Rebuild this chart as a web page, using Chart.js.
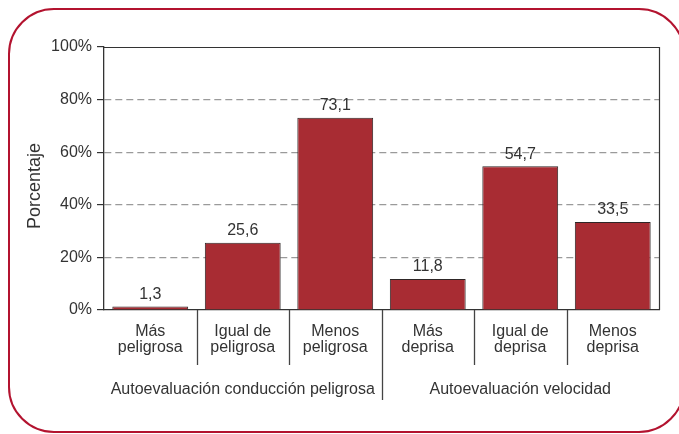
<!DOCTYPE html>
<html>
<head>
<meta charset="utf-8">
<script src="https://cdn.jsdelivr.net/npm/chart.js@4/dist/chart.umd.min.js"></script>
<style>
  html, body { margin: 0; padding: 0; background: #fff; overflow: hidden; }
  #wrap { position: relative; width: 679px; height: 434px; overflow: hidden; }
  #frame { position: absolute; left: 8px; top: 8px; width: 673px; height: 421px;
           border: 2.5px solid #b3132f; border-radius: 46px; }
  canvas { position: absolute; left: 0; top: 0; }
</style>
</head>
<body>
<div id="wrap">
  <div id="frame"></div>
  <canvas id="c" width="679" height="434"></canvas>
</div>
<script>
const categories = [
  ['Más', 'peligrosa'],
  ['Igual de', 'peligrosa'],
  ['Menos', 'peligrosa'],
  ['Más', 'deprisa'],
  ['Igual de', 'deprisa'],
  ['Menos', 'deprisa']
];
const values = [1.3, 25.6, 73.1, 11.8, 54.7, 33.5];
const valueLabels = ['1,3', '25,6', '73,1', '11,8', '54,7', '33,5'];
const groupNames = ['Autoevaluación conducción peligrosa', 'Autoevaluación velocidad'];
const groupStarts = [0, 3];
const groupEnds = [2, 5];
const yTicks = [0, 20, 40, 60, 80, 100];
const yTitle = 'Porcentaje';

const FONT = '"Liberation Sans", Arial, Helvetica, sans-serif';
const TEXT = '#333333';
Chart.defaults.font.family = FONT;
Chart.defaults.color = TEXT;

const extras = {
  id: 'extras',
  afterDatasetsDraw(chart) {
    const ctx = chart.ctx;
    const ca = chart.chartArea;
    const x = chart.scales.x;
    const meta = chart.getDatasetMeta(0);
    ctx.save();
    // top and right border
    ctx.strokeStyle = '#333';
    ctx.lineWidth = 1.2;
    ctx.beginPath();
    ctx.moveTo(ca.left, ca.top + 0.5);
    ctx.lineTo(ca.right + 0.5, ca.top + 0.5);
    ctx.lineTo(ca.right + 0.5, ca.bottom);
    ctx.stroke();
    // value labels
    ctx.fillStyle = TEXT;
    ctx.font = '16px ' + FONT;
    ctx.textAlign = 'center';
    ctx.textBaseline = 'alphabetic';
    meta.data.forEach((bar, i) => {
      ctx.fillText(valueLabels[i], bar.x, bar.y - 7.5);
    });
    // category separators
    const half = (x.getPixelForValue(1) - x.getPixelForValue(0)) / 2;
    ctx.strokeStyle = '#444';
    ctx.lineWidth = 1.3;
    for (let i = 1; i < categories.length; i++) {
      const px = Math.round(x.getPixelForValue(i) - half) + 0.5;
      const isGroupEdge = groupStarts.includes(i);
      ctx.beginPath();
      ctx.moveTo(px, ca.bottom);
      ctx.lineTo(px, isGroupEdge ? ca.bottom + 90 : ca.bottom + 55);
      ctx.stroke();
    }
    // group labels
    ctx.fillStyle = TEXT;
    ctx.font = '16px ' + FONT;
    groupNames.forEach((g, k) => {
      const l = x.getPixelForValue(groupStarts[k]) - half;
      const r = x.getPixelForValue(groupEnds[k]) + half;
      ctx.fillText(g, (l + r) / 2, ca.bottom + 84);
    });
    // y title
    ctx.save();
    ctx.translate(40, 186);
    ctx.rotate(-Math.PI / 2);
    ctx.font = '18px ' + FONT;
    ctx.textAlign = 'center';
    ctx.fillText(yTitle, 0, 0);
    ctx.restore();
    ctx.restore();
  }
};

new Chart(document.getElementById('c'), {
  type: 'bar',
  data: {
    labels: categories,
    datasets: [{
      data: values,
      backgroundColor: '#a82c33',
      borderColor: '#2e2626',
      borderWidth: 1,
      borderSkipped: 'start',
      categoryPercentage: 1,
      barPercentage: 0.82
    }]
  },
  options: {
    responsive: false,
    animation: false,
    events: [],
    layout: { padding: { left: 0, right: 20, top: 47, bottom: 0 } },
    plugins: { legend: { display: false }, tooltip: { enabled: false } },
    scales: {
      x: {
        type: 'category',
        offset: true,
        grid: { display: false, drawTicks: false },
        border: { display: true, color: '#333', width: 1.3 },
        ticks: {
          autoSkip: false, maxRotation: 0, minRotation: 0,
          padding: 14,
          color: TEXT,
          font: { size: 16, lineHeight: 0.98 }
        },
        afterFit(s) { s.height = 124; }
      },
      y: {
        min: 0, max: 100,
        afterBuildTicks(s) { s.ticks = yTicks.map(v => ({ value: v })); },
        grid: {
          color: c => (c.tick && (c.tick.value === 0 || c.tick.value === 100)) ? 'rgba(0,0,0,0)' : '#9a9a9a',
          tickColor: '#333',
          tickLength: 7,
          lineWidth: 1.2
        },
        border: { display: true, color: '#333', width: 1.3, dash: [7, 4] },
        ticks: {
          padding: 5,
          color: TEXT,
          font: { size: 16 },
          callback: v => v + '%'
        },
        afterFit(s) { s.width = 104; }
      }
    }
  },
  plugins: [extras]
});
</script>
</body>
</html>
